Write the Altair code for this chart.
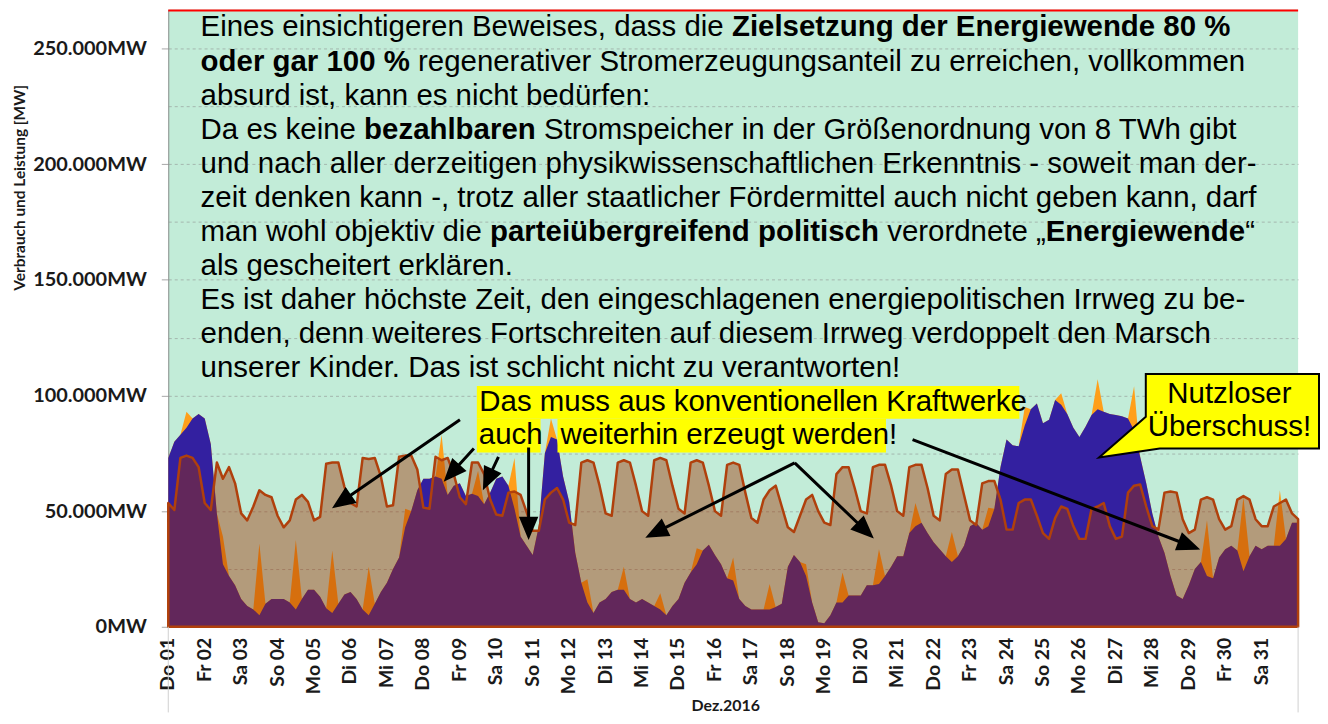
import math
import altair as alt
import pandas as pd

# ---------------- data (GW, samples at 0/4/8/12/16/20 h of each day, last value = 01.01. 0 h)
days = ["Do 01", "Fr 02", "Sa 03", "So 04", "Mo 05", "Di 06", "Mi 07", "Do 08", "Fr 09", "Sa 10",
        "So 11", "Mo 12", "Di 13", "Mi 14", "Do 15", "Fr 16", "Sa 17", "So 18", "Mo 19", "Di 20",
        "Mi 21", "Do 22", "Fr 23", "Sa 24", "So 25", "Mo 26", "Di 27", "Mi 28", "Do 29", "Fr 30", "Sa 31"]
y_tick_labels = ["0MW", "50.000MW", "100.000MW", "150.000MW", "200.000MW", "250.000MW"]

verbrauch = [
    53.5, 50.5, 73, 74, 73, 69,
    53.5, 50.5, 71, 64, 69, 62,
    49, 46, 52, 59, 57, 56,
    48, 43, 46, 55, 57, 54,
    46, 47.5, 70.5, 71, 71, 60.5,
    53.5, 52, 73, 72.5, 73, 65,
    52, 52.5, 73.5, 74, 74, 68,
    51.5, 51, 73.5, 72, 73, 66,
    56, 53, 71, 71, 66, 55,
    48.5, 48, 58, 58.5, 57, 49.5,
    41.5, 41.5, 55, 58, 60, 55,
    45, 44, 71, 72, 71, 61,
    49, 48, 71, 72, 71, 61,
    50, 48, 72, 73, 72, 61,
    51, 49, 71, 72, 71, 61,
    50, 48, 70, 71, 70, 58,
    47, 45, 55, 59, 61, 52,
    43, 41, 48, 55, 57, 50,
    45, 44, 66, 69, 69, 60,
    50, 49, 69, 70, 70, 61,
    50, 48, 69, 70, 70, 60,
    48, 46, 66, 68, 68, 57,
    46, 44, 62, 63, 63, 55,
    42, 42, 53.5, 55, 55, 48,
    40.5, 38, 47, 52, 51, 43.5,
    38, 38, 51, 52, 53.5, 43.5,
    38, 39, 58, 61, 61.5, 52,
    43.5, 42, 58, 58.5, 58, 46.5,
    40.5, 42, 55, 56, 55, 46.5,
    42, 43.5, 55, 56.5, 55, 46.5,
    43.5, 43.5, 52, 53.5, 55, 49,
    46.5,
]

wind = [
    73, 80, 83, 86, 90, 92,
    90, 79, 49, 27, 22, 18,
    12, 9, 7.5, 5, 10, 12,
    12, 12, 10.5, 7.5, 12, 16,
    16, 13, 8, 6, 10, 14,
    15, 12, 7.5, 5, 10, 15,
    19, 25, 30, 43, 50, 59,
    64, 64, 65, 64, 57, 61,
    62, 56.5, 57.5, 56.5, 53, 58,
    64, 65, 61, 51, 39, 35,
    31, 43.5, 75, 82, 81, 65,
    54, 32, 19, 10.5, 6, 10.5,
    12, 15, 16, 16, 12, 10.5,
    12, 10.5, 9, 7.5, 5, 9,
    12, 19, 23.5, 27, 33, 35.5,
    31, 27, 21, 20, 12, 9,
    7.5, 7.5, 7.5, 7.5, 8.5, 10,
    26, 31, 28, 22, 10.5, 2,
    1.5, 5, 10.5, 10.5, 13.5, 13.5,
    13.5, 18, 18, 18.5, 22, 26,
    30.5, 30.5, 40.5, 43.5, 45, 40.5,
    36.5, 33.5, 30.5, 28, 30.5, 35,
    43.5, 45, 42, 43.5, 51, 69,
    81, 78.5, 78, 87, 94, 96.5,
    88, 89.5, 98, 96, 92, 86,
    82, 86.5, 91.5, 94, 93, 92,
    91.5, 91, 90, 85, 73.5, 62,
    49, 39, 32, 22, 13.5, 12,
    18, 25, 28, 22, 21, 30,
    33.5, 35, 33, 24, 30.5, 35,
    33.5, 35, 35, 35, 38, 45,
    45,
]

# solar peak at 12 h of each day
solar_noon = [7, 12, 31, 30, 27, 21, 8, 19, 11, 22, 8, 10, 10, 7, 7, 10,
              11, 5, 13, 15, 10, 13, 8, 8, 5, 13, 19, 0, 24, 32, 24]

hours = list(range(0, 24 * 31 + 1, 4))
solar = [0.0] * len(hours)
for d, v in enumerate(solar_noon):
    solar[d * 6 + 3] = v
assert len(verbrauch) == len(hours) == len(wind)

df = pd.DataFrame({
    "hour": hours,
    "verbrauch": [v * 1000 for v in verbrauch],
    "wind": [v * 1000 for v in wind],
    "solar": [v * 1000 for v in solar],
})
day_df = pd.DataFrame({"hour": [24 * i for i in range(len(days))], "label": days})

# ---------------- layout
W, H = 1135, 620
YMAX = 266800
PAD = {"left": 161, "top": 0, "right": 22, "bottom": 86}
OX, OY = 169, 8  # page position of plot origin

# ---------------- Arial / Liberation Sans advance widths (1/1000 em)
REG = {" ": 278, "!": 278, "%": 889, ",": 278, "-": 333, ".": 278, ":": 278, "„": 333, "“": 333}
BLD = {" ": 278, "!": 333, "%": 889, ",": 278, "-": 333, ".": 278, ":": 333, "„": 500, "“": 500}
for c in "0123456789":
    REG[c] = 556
    BLD[c] = 556
for c, w in zip("ABCDEFGHIJKLMNOPQRSTUVWXYZÜ",
                [667, 667, 722, 722, 667, 611, 778, 722, 278, 500, 667, 556, 833, 722, 778, 667, 778, 722, 667, 611, 722, 667, 944, 667, 667, 611, 722]):
    REG[c] = w
for c, w in zip("ABCDEFGHIJKLMNOPQRSTUVWXYZÜ",
                [722, 722, 722, 722, 667, 611, 778, 722, 278, 556, 722, 611, 833, 722, 778, 667, 778, 722, 667, 611, 722, 667, 944, 667, 667, 611, 722]):
    BLD[c] = w
for c, w in zip("abcdefghijklmnopqrstuvwxyzäöüß",
                [556, 556, 500, 556, 556, 278, 556, 556, 222, 222, 500, 222, 833, 556, 556, 556, 556, 333, 500, 278, 556, 500, 722, 500, 500, 500, 556, 556, 556, 611]):
    REG[c] = w
for c, w in zip("abcdefghijklmnopqrstuvwxyzäöüß",
                [556, 611, 556, 611, 556, 333, 611, 611, 278, 278, 556, 278, 889, 611, 611, 611, 611, 389, 556, 333, 611, 556, 778, 556, 556, 500, 556, 611, 611, 611]):
    BLD[c] = w

FS = 29.55


def tw(s, bold):
    t = BLD if bold else REG
    return sum(t.get(c, 556) for c in s) * FS / 1000.0


main_lines = [
    [("Eines einsichtigeren Beweises, dass die ", 0), ("Zielsetzung der Energiewende 80 %", 1)],
    [("oder gar 100 %", 1), (" regenerativer Stromerzeugungsanteil zu erreichen, vollkommen", 0)],
    [("absurd ist, kann es nicht bedürfen:", 0)],
    [("Da es keine ", 0), ("bezahlbaren", 1), (" Stromspeicher in der Größenordnung von 8 TWh gibt", 0)],
    [("und nach aller derzeitigen physikwissenschaftlichen Erkenntnis - soweit man der-", 0)],
    [("zeit denken kann -, trotz aller staatlicher Fördermittel auch nicht geben kann, darf", 0)],
    [("man wohl objektiv die ", 0), ("parteiübergreifend politisch", 1), (" verordnete „", 0), ("Energiewende", 1), ("“", 0)],
    [("als gescheitert erklären.", 0)],
    [("Es ist daher höchste Zeit, den eingeschlagenen energiepolitischen Irrweg zu be-", 0)],
    [("enden, denn weiteres Fortschreiten auf diesem Irrweg verdoppelt den Marsch", 0)],
    [("unserer Kinder. Das ist schlicht nicht zu verantworten!", 0)],
]

rows = []
x0 = 201.5 - OX
for i, segs in enumerate(main_lines):
    y = 35 - OY + 34.25 * i
    cx = x0
    for s, b in segs:
        lead = len(s) - len(s.lstrip(" "))
        rows.append({"px": cx + tw(" " * lead, b), "py": y, "t": s.strip(" "), "b": b})
        cx += tw(s, b)
# yellow annotation text
rows.append({"px": 481.5 - OX, "py": 411.7 - OY, "t": "Das muss aus konventionellen Kraftwerke", "b": 0})
rows.append({"px": 481 - OX, "py": 444 - OY, "t": "auch", "b": 0})
rows.append({"px": 563 - OX, "py": 444 - OY, "t": "weiterhin erzeugt werden!", "b": 0})
text_df = pd.DataFrame(rows)

rect_df = pd.DataFrame({
    "x1": [479 - OX, 479 - OX, 560 - OX],
    "x2": [1024 - OX, 543 - OX, 890 - OX],
    "y1": [386 - OY, 419 - OY, 419 - OY],
    "y2": [419 - OY, 453 - OY, 453 - OY],
})

arrows = [((462, 420), (336.7, 506.7)), ((476, 449), (448.3, 479.3)), ((500.7, 457.3), (486.7, 487.3)),
          ((531, 448), (531, 537)), ((798.3, 463.3), (651.7, 536.7)), ((798.3, 463.3), (875, 536.7)),
          ((916.7, 440), (1202, 549))]


def arrow_path(p0, p1, hl=18.0, hw=7.5):
    dx, dy = p1[0] - p0[0], p1[1] - p0[1]
    L = math.hypot(dx, dy)
    ux, uy = dx / L, dy / L
    nx, ny = -uy, ux
    bx, by = dx - ux * hl, dy - uy * hl
    return ("M0,0 L%.2f,%.2f M%.2f,%.2f L%.2f,%.2f L%.2f,%.2f Z" %
            (bx, by, dx, dy, bx + nx * hw, by + ny * hw, bx - nx * hw, by - ny * hw))


arrow_df = pd.DataFrame({
    "px": [a[0][0] - OX for a in arrows],
    "py": [a[0][1] - OY for a in arrows],
    "path": [arrow_path(a[0], a[1]) for a in arrows],
})

callout_df = pd.DataFrame({"px": [1151 - OX], "py": [374 - OY],
                           "path": ["M0,0 L174,0 L174,75 L14,75 L-47,84 L0,43 Z"]})
callout_txt = pd.DataFrame({"px": [1235 - OX, 1235 - OX], "py": [402.7 - OY, 436 - OY],
                            "t": ["Nutzloser", "Überschuss!"]})

# ---------------- axes
ylab_expr = ("datum.value % 50000 === 0 ? [" + ",".join("'%s'" % s for s in y_tick_labels) +
             "][round(datum.value / 50000)] : ''")

x_axis = alt.Axis(values=list(range(0, 744, 24)), labels=False, ticks=False, tickSize=0,
                  domain=False, grid=False, title=None)
y_axis = alt.Axis(values=list(range(0, 250001, 25000)), labelExpr=ylab_expr,
                  labelFont="Lato", labelFontWeight="bold", labelFontSize=20, labelColor="#1a1a1a",
                  labelPadding=15, tickSize=7, tickColor="#a6a6a6",
                  tickOpacity={"condition": {"test": "datum.value % 50000 === 0", "value": 1}, "value": 0},
                  domainColor="#8c8c8c", grid=True, gridColor="#8a8a8a", gridDash=[3, 3],
                  gridOpacity=0.55, gridWidth=1, labelOverlap=False, title=None)

xs = alt.Scale(domain=[0, 744], nice=False, zero=False)
ys = alt.Scale(domain=[0, YMAX], nice=False)

base = alt.Chart(df).transform_calculate(gesamt="datum.wind + datum.solar")
orange = base.mark_area(color="#ff9f1a").encode(
    x=alt.X("hour:Q", scale=xs, axis=x_axis, title=None),
    y=alt.Y("gesamt:Q", scale=ys, axis=y_axis, stack=None, title=None))
blue = base.mark_area(color="#3320a0").encode(
    x=alt.X("hour:Q", title=None), y=alt.Y("wind:Q", stack=None, title=None))
cons = base.mark_area(fill="#9f3000", fillOpacity=0.43, stroke="#b0400c", strokeWidth=2.5,
                      strokeJoin="round").encode(
    x=alt.X("hour:Q", title=None), y=alt.Y("verbrauch:Q", stack=None, title=None))

# day labels placed through the x scale
day_labels = alt.Chart(day_df).mark_text(angle=270, align="right", baseline="middle", font="Lato",
                                         fontWeight="bold", fontSize=19.5, color="#1a1a1a").encode(
    x=alt.X("hour:Q", title=None), y=alt.value(H + 11), text="label:N")

red_rule = alt.Chart(pd.DataFrame({"px": [0], "px2": [W]})).mark_rule(color="#ff0000", strokeWidth=2).encode(
    x=alt.X("px:Q", scale=None), x2="px2:Q", y=alt.value(1))
side_rules = alt.Chart(pd.DataFrame({"px": [0, W]})).mark_rule(color="#d0d0d0", strokeWidth=1).encode(
    x=alt.X("px:Q", scale=None), y=alt.value(H), y2=alt.value(H + 86))

rects = alt.Chart(rect_df).mark_rect(color="#ffff00").encode(
    x=alt.X("x1:Q", scale=None), x2="x2:Q", y=alt.Y("y1:Q", scale=None), y2="y2:Q")


def txt(data, bold):
    return alt.Chart(data).transform_filter("datum.b == %d" % bold).mark_text(
        align="left", baseline="alphabetic", font="Liberation Sans", fontSize=FS,
        fontWeight="bold" if bold else "normal", color="#000000").encode(
        x=alt.X("px:Q", scale=None), y=alt.Y("py:Q", scale=None), text="t:N")


txt_norm = txt(text_df, 0)
txt_bold = txt(text_df, 1)

arrow_layer = alt.Chart(arrow_df).mark_point(size=4, fill="#000000", stroke="#000000", strokeWidth=3,
                                             opacity=1, fillOpacity=1, strokeJoin="miter").encode(
    x=alt.X("px:Q", scale=None), y=alt.Y("py:Q", scale=None), shape=alt.Shape("path:N", scale=None))
callout = alt.Chart(callout_df).mark_point(size=4, fill="#ffff00", stroke="#000000", strokeWidth=2,
                                           opacity=1, fillOpacity=1, strokeJoin="miter").encode(
    x=alt.X("px:Q", scale=None), y=alt.Y("py:Q", scale=None), shape=alt.Shape("path:N", scale=None))
callout_text = alt.Chart(callout_txt).mark_text(align="center", baseline="alphabetic",
                                                font="Liberation Sans", fontSize=FS, color="#000000").encode(
    x=alt.X("px:Q", scale=None), y=alt.Y("py:Q", scale=None), text="t:N")

titles = pd.DataFrame({"px": [20 - OX], "py": [187 - OY], "t": ["Verbrauch und Leistung  [MW]"]})
y_title = alt.Chart(titles).mark_text(angle=270, align="center", baseline="middle", font="Lato",
                                      fontWeight="bold", fontSize=15.5, color="#1a1a1a").encode(
    x=alt.X("px:Q", scale=None), y=alt.Y("py:Q", scale=None), text="t:N")
xt = pd.DataFrame({"px": [729 - OX], "py": [H + 85], "t": ["Dez.2016"]})
x_title = alt.Chart(xt).mark_text(align="center", baseline="alphabetic", font="Lato",
                                  fontWeight="bold", fontSize=16, color="#1a1a1a").encode(
    x=alt.X("px:Q", scale=None), y=alt.Y("py:Q", scale=None), text="t:N")

chart = alt.layer(
    orange, blue, cons, day_labels, red_rule, side_rules, rects, txt_norm, txt_bold, arrow_layer,
    callout, callout_text, y_title, x_title
).properties(
    width=W, height=H, autosize=alt.AutoSizeParams(type="none"), padding=PAD, background="#ffffff"
).configure_view(
    fill="#c2ecd8", strokeWidth=0
)

chart.save("out.html", embed_options={"renderer": "svg", "actions": False})
